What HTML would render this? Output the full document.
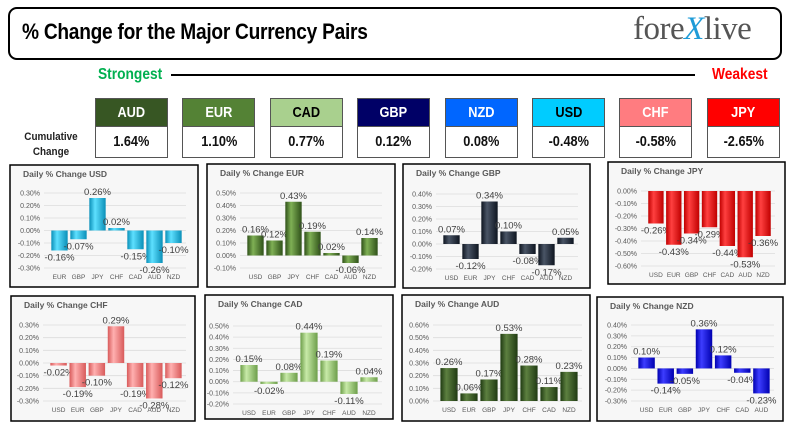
<!DOCTYPE html>
<html><head><meta charset="utf-8"><style>
body{margin:0;width:793px;height:446px;background:#fff;position:relative;overflow:hidden;font-family:"Liberation Sans",sans-serif}
.abs{position:absolute}
.hdr{font-family:"Liberation Sans Narrow","Liberation Sans",sans-serif;font-weight:bold}
.cb{position:absolute;width:73px;height:29px;border:1px solid #555;box-sizing:border-box;text-align:center;line-height:28px;font-size:15px;font-family:"Liberation Sans Narrow","Liberation Sans",sans-serif;font-weight:bold}
.cv{position:absolute;width:73px;height:31px;border:1px solid #555;border-top:none;box-sizing:border-box;text-align:center;line-height:30px;font-size:15px;font-family:"Liberation Sans Narrow","Liberation Sans",sans-serif;font-weight:bold;color:#111}
.cb span,.cv span{display:inline-block;transform:scaleX(0.85)}
</style></head><body>
<div class="abs" style="left:8px;top:7px;width:770px;height:49px;border:2px solid #000;border-radius:9px"></div>
<div class="abs hdr" style="left:22px;top:19px;font-size:22px;letter-spacing:-0.3px;transform:scaleX(0.87);transform-origin:left;white-space:nowrap">% Change for the Major Currency Pairs</div>
<div class="abs" style="left:633px;top:11px;font-family:'Liberation Serif',serif;font-size:33px;color:#555;letter-spacing:-0.5px">fore<span style="color:#1e9bd7;font-style:italic">X</span>live</div>
<div class="abs hdr" style="left:98px;top:66px;font-size:16px;color:#00b050;transform:scaleX(0.86);transform-origin:left">Strongest</div>
<div class="abs" style="left:171px;top:74px;width:524px;height:2px;background:#000"></div>
<div class="abs hdr" style="left:712px;top:66px;font-size:16px;color:#ff0000;transform:scaleX(0.86);transform-origin:left">Weakest</div>
<div class="abs hdr" style="left:20px;top:130px;font-size:11px;line-height:15px;text-align:center;width:62px;color:#222;transform:scaleX(0.9)">Cumulative<br>Change</div>
<div id="cum"></div>
<svg id="charts" class="abs" style="left:0;top:0" width="793" height="446"></svg>
<script>
const cumNames=["AUD","EUR","CAD","GBP","NZD","USD","CHF","JPY"];
const cumVals=["1.64%","1.10%","0.77%","0.12%","0.08%","-0.48%","-0.58%","-2.65%"];
const cumBg=["#375623","#548235","#a9d08e","#000066","#0066ff","#00ccff","#ff7c80","#ff0000"];
const cumFg=["#fff","#fff","#000","#fff","#fff","#000","#fff","#fff"];
const cum=document.getElementById('cum');
cumNames.forEach((n,i)=>{
  const x=95+i*87.4;
  const h=document.createElement('div');h.className='cb';
  
  
  h.style.left=x+'px';h.style.top='98px';h.style.background=cumBg[i];h.style.color=cumFg[i];
  h.innerHTML='<span>'+n+'</span>';cum.appendChild(h);
  const v=document.createElement('div');v.className='cv';
  
  
  v.style.left=x+'px';v.style.top='127px';v.innerHTML='<span>'+cumVals[i]+'</span>';cum.appendChild(v);
});

const usdCats=["EUR","GBP","JPY","CHF","CAD","AUD","NZD"];
const usdVals=[-0.16,-0.07,0.26,0.02,-0.15,-0.26,-0.10];
const usdTicks=[0.3,0.2,0.1,0,-0.1,-0.2,-0.3];
const eurCats=["USD","GBP","JPY","CHF","CAD","AUD","NZD"];
const eurVals=[0.16,0.12,0.43,0.19,0.02,-0.06,0.14];
const eurTicks=[0.5,0.4,0.3,0.2,0.1,0,-0.1];
const gbpCats=["USD","EUR","JPY","CHF","CAD","AUD","NZD"];
const gbpVals=[0.07,-0.12,0.34,0.10,-0.08,-0.17,0.05];
const gbpTicks=[0.4,0.3,0.2,0.1,0,-0.1,-0.2];
const jpyCats=["USD","EUR","GBP","CHF","CAD","AUD","NZD"];
const jpyVals=[-0.26,-0.43,-0.34,-0.29,-0.44,-0.53,-0.36];
const jpyTicks=[0,-0.1,-0.2,-0.3,-0.4,-0.5,-0.6];
const chfCats=["USD","EUR","GBP","JPY","CAD","AUD","NZD"];
const chfVals=[-0.02,-0.19,-0.10,0.29,-0.19,-0.28,-0.12];
const chfTicks=[0.3,0.2,0.1,0,-0.1,-0.2,-0.3];
const cadCats=["USD","EUR","GBP","JPY","CHF","AUD","NZD"];
const cadVals=[0.15,-0.02,0.08,0.44,0.19,-0.11,0.04];
const cadTicks=[0.5,0.4,0.3,0.2,0.1,0,-0.1,-0.2];
const audCats=["USD","EUR","GBP","JPY","CHF","CAD","NZD"];
const audVals=[0.26,0.06,0.17,0.53,0.28,0.11,0.23];
const audTicks=[0.6,0.5,0.4,0.3,0.2,0.1,0];
const nzdCats=["USD","EUR","GBP","JPY","CHF","CAD","AUD"];
const nzdVals=[0.10,-0.14,-0.05,0.36,0.12,-0.04,-0.23];
const nzdTicks=[0.4,0.3,0.2,0.1,0,-0.1,-0.2,-0.3];

const panels=[
 {k:'usd',cats:usdCats,vals:usdVals,ticks:usdTicks,box:[10,165,198,287],yT:193,yB:268,x0:50,x1:183,c:['#0a8fb8','#5ee0ff','#0aa6d6']},
 {k:'eur',cats:eurCats,vals:eurVals,ticks:eurTicks,box:[207,164,395,287],yT:193,yB:268,x0:246,x1:379,c:['#2f5119','#7fb055','#3f6b22']},
 {k:'gbp',cats:gbpCats,vals:gbpVals,ticks:gbpTicks,box:[403,164,590,288],yT:194,yB:269,x0:442,x1:575,c:['#0e1520','#4a5566','#151d2a']},
 {k:'jpy',cats:jpyCats,vals:jpyVals,ticks:jpyTicks,box:[608,162,785,284],yT:191,yB:266,x0:647,x1:772,c:['#c00000','#ff4040','#e00000']},
 {k:'chf',cats:chfCats,vals:chfVals,ticks:chfTicks,box:[11,296,195,421],yT:325,yB:401,x0:49,x1:183,c:['#d85a5a','#ffb0b0','#e87070']},
 {k:'cad',cats:cadCats,vals:cadVals,ticks:cadTicks,box:[205,295,393,419],yT:326,yB:404,x0:239,x1:379,c:['#6d9e4a','#c8eaa8','#8cbf66']},
 {k:'aud',cats:audCats,vals:audVals,ticks:audTicks,box:[402,295,590,421],yT:325,yB:401,x0:439,x1:579,c:['#1f3a12','#5d8040','#2d4c1b']},
 {k:'nzd',cats:nzdCats,vals:nzdVals,ticks:nzdTicks,box:[597,297,783,421],yT:325,yB:401,x0:637,x1:771,c:['#0000b0','#3d3dff','#0000e0']}
];
const NS='http://www.w3.org/2000/svg';
const svg=document.getElementById('charts');
function mk(t,a,p){const e=document.createElementNS(NS,t);for(const k in a)e.setAttribute(k,a[k]);(p||svg).appendChild(e);return e;}
const defs=mk('defs',{});
panels.forEach(p=>{
  const g=mk('g',{});
  
  
  const gr=mk('linearGradient',{id:'g'+p.k,x1:0,x2:1,y1:0,y2:0},defs);
  mk('stop',{offset:'0',['stop-color']:p.c[0]},gr);mk('stop',{offset:'0.35',['stop-color']:p.c[1]},gr);mk('stop',{offset:'1',['stop-color']:p.c[0]},gr);
  const [l,t,r,b]=p.box;
  const bg=mk('rect',{x:l,y:t,width:r-l,height:b-t,fill:'#f7f7f7',stroke:'#000','stroke-width':1.5},g);
  
  const tt=mk('text',{x:l+13,y:t+12,'font-size':8.5,'font-weight':'bold',fill:'#595959'},g);
  tt.textContent='Daily % Change '+p.k.toUpperCase();
  
  const tmax=p.ticks[0],tmin=p.ticks[p.ticks.length-1];
  const y=v=>p.yT+(tmax-v)/(tmax-tmin)*(p.yB-p.yT);
  p.ticks.forEach(tv=>{
    mk('line',{x1:p.x0-6,x2:p.x1+3,y1:y(tv),y2:y(tv),stroke:'#dcdcdc','stroke-width':0.8},g);
    const tl=mk('text',{x:p.x0-10,y:y(tv)+2.5,'font-size':7,fill:'#595959','text-anchor':'end'},g);
    tl.textContent=tv.toFixed(2)+'%';
    
  });
  const step=(p.x1-p.x0)/p.cats.length;
  const bw=step*0.86;
  p.vals.forEach((v,i)=>{
    const cx=p.x0+step*(i+0.5);
    const y0=y(0),yv=y(v);
    const bar=mk('rect',{x:cx-bw/2,y:Math.min(y0,yv),width:bw,height:Math.max(1,Math.abs(yv-y0)),fill:'url(#g'+p.k+')'},g);
    
    const vl=mk('text',{x:cx,y:v>=0?yv-3:yv+10,'font-size':9.5,fill:'#404040','text-anchor':'middle'},g);
    vl.textContent=v.toFixed(2)+'%';
    
    const cl=mk('text',{x:cx,y:p.yB+11,'font-size':6.5,fill:'#595959','text-anchor':'middle'},g);
    cl.textContent=p.cats[i];
    
  });
});
</script>
</body></html>
